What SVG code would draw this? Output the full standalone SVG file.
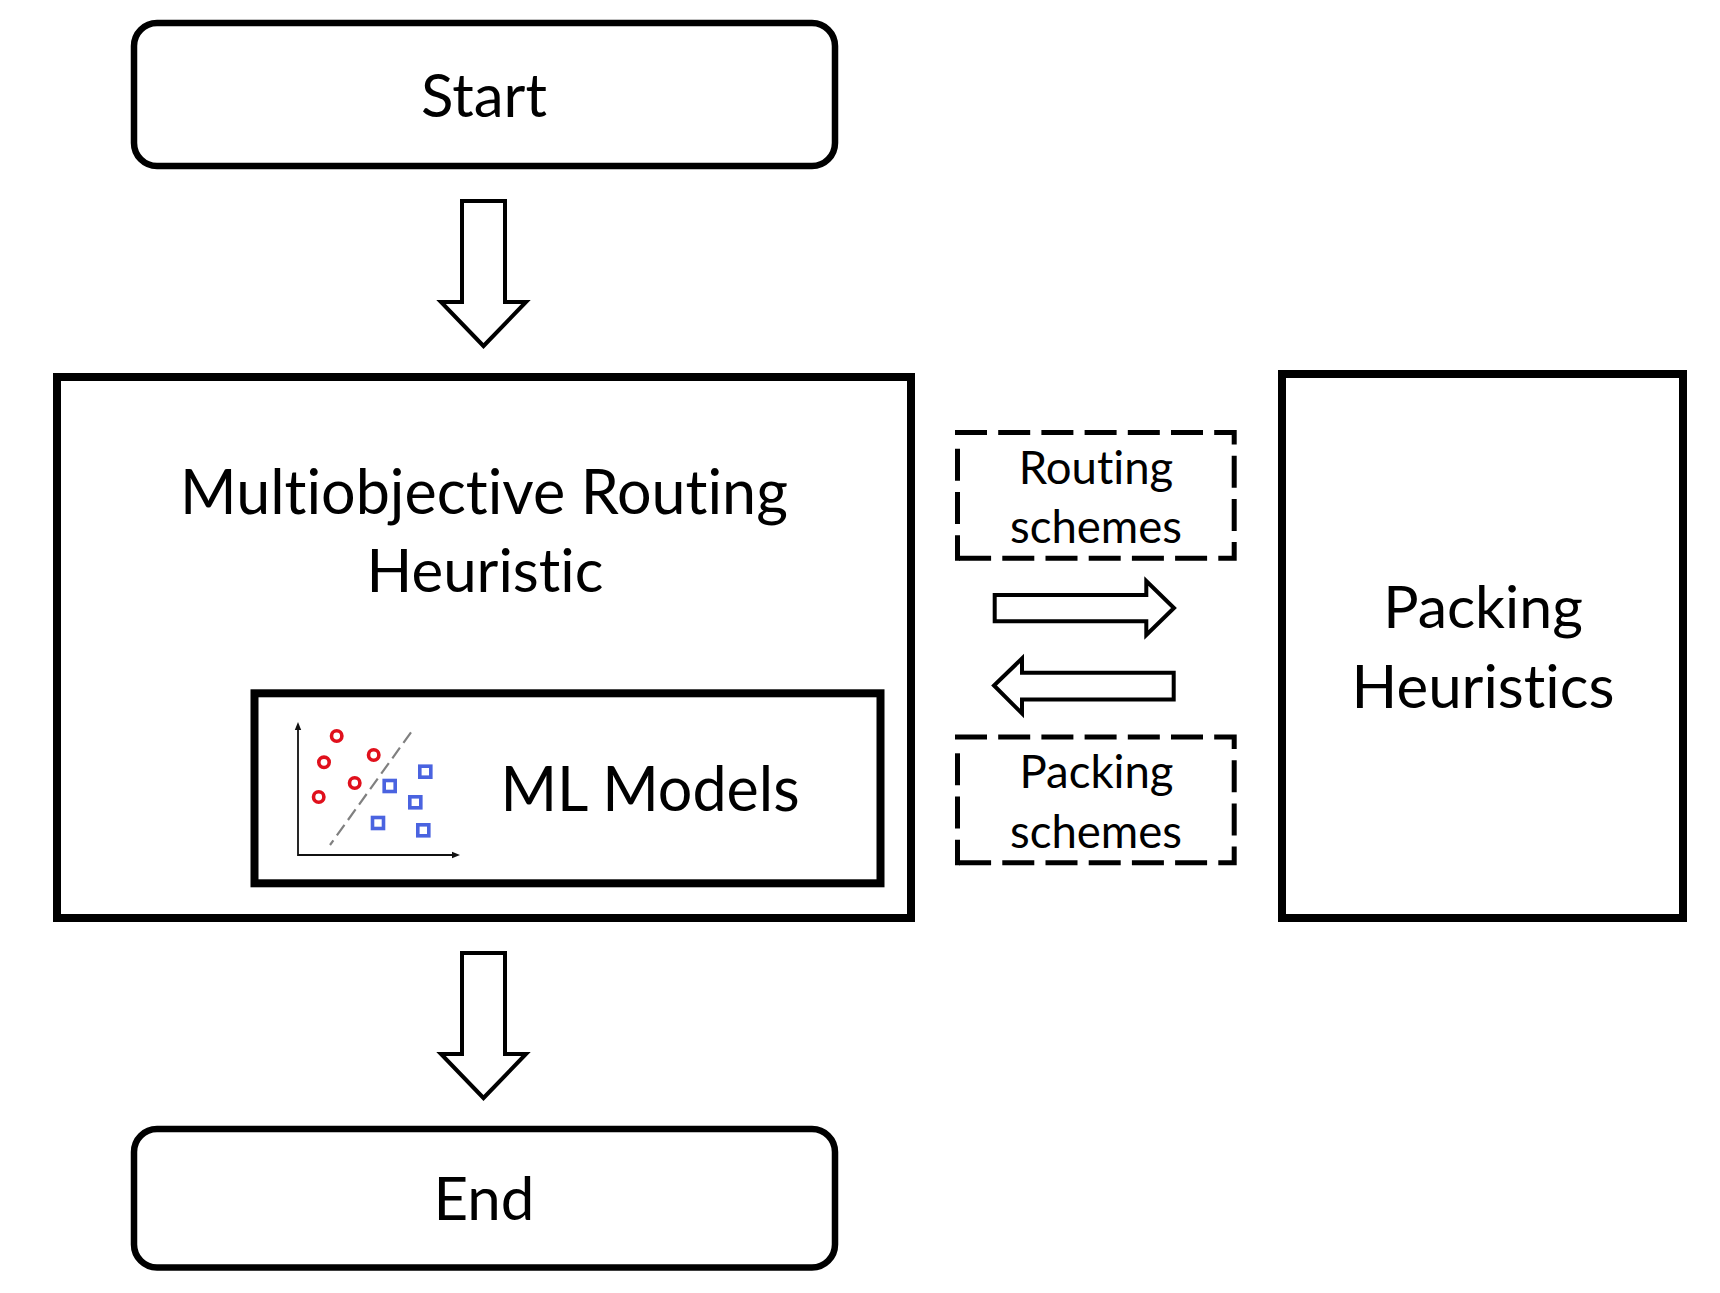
<svg xmlns="http://www.w3.org/2000/svg" width="1720" height="1293" viewBox="0 0 1720 1293">
<style>
text{font-family:"Lato","Liberation Sans",sans-serif;fill:#000;text-anchor:middle;font-variant-ligatures:none}
.box{fill:#fff;stroke:#000;stroke-width:8}
.round{fill:#fff;stroke:#000;stroke-width:6.5}
.dash{fill:none;stroke:#000;stroke-width:5;stroke-dasharray:32 11.2}
.arrow{fill:#fff;stroke:#000;stroke-width:4;stroke-linejoin:miter}
.t59{font-size:59px}
.t60{font-size:60px}
.t61{font-size:61px}
.small{font-size:45.5px}
.red{fill:none;stroke:#e0101c;stroke-width:3.6}
.blue{fill:none;stroke:#4a63e0;stroke-width:3.6}
.axis{fill:none;stroke:#111;stroke-width:1.8}
</style>
<defs>
<g id="dashes"><path class="dash" d="M955 432.5H1234.2V558.2H957.5"/><path class="dash" stroke-dashoffset="6.5" d="M957.5 560.7V445"/></g>
</defs>
<rect width="1720" height="1293" fill="#fff"/>
<g id="connectors">
<path class="arrow" d="M462 201H505V302H526L483.5 346L441 302H462Z"/>
<path class="arrow" d="M462 953H505V1054H526L483.5 1098L441 1054H462Z"/>
<path class="arrow" d="M994.7 595H1146.3V581L1174 608L1146.3 635V621.3H994.7Z"/>
<path class="arrow" d="M1173.7 672.7H1022V658.5L994 685.5L1022 713.5V699.5H1173.7Z"/>
</g>
<g id="start"><rect class="round" x="134" y="23" width="701" height="143" rx="23"/><text class="t60" x="484" y="116.7">Start</text></g>
<g id="end"><rect class="round" x="134" y="1129" width="701" height="138.5" rx="23"/><text class="t60" x="484" y="1220">End</text></g>
<g id="routing"><rect class="box" x="57" y="377" width="854" height="541"/><text class="t61" x="484" y="513.5">Multiobjective Routing</text><text class="t60" x="485" y="592">Heuristic</text></g>
<g id="ml"><rect class="box" x="254.5" y="693.3" width="626" height="190"/><text class="t61" x="650" y="810.5">ML Models</text>
<path class="axis" d="M298 727V855H454"/><path fill="#111" d="M298 722l-3.2 8h6.4zM460 855l-8-3.2v6.4z"/>
<path d="M411 732.3L330 845" fill="none" stroke="#808080" stroke-width="2.2" stroke-dasharray="13 6"/>
<circle class="red" cx="336.7" cy="736" r="5.2"/><circle class="red" cx="324" cy="762.3" r="5.2"/><circle class="red" cx="373.7" cy="755" r="5.2"/><circle class="red" cx="354.7" cy="783" r="5.2"/><circle class="red" cx="318.7" cy="797" r="5.2"/>
<rect class="blue" x="419.8" y="766.2" width="11" height="11"/><rect class="blue" x="384.2" y="780.5" width="11" height="11"/><rect class="blue" x="409.8" y="796.8" width="11" height="11"/><rect class="blue" x="372.5" y="817.5" width="11" height="11"/><rect class="blue" x="417.8" y="824.8" width="11" height="11"/></g>
<g id="routing-schemes"><use href="#dashes"/><text class="small" x="1096" y="484">Routing</text><text class="small" x="1096" y="543">schemes</text></g>
<g id="packing-schemes"><use href="#dashes" y="304.5"/><text class="small" x="1096.5" y="788">Packing</text><text class="small" x="1096" y="848">schemes</text></g>
<g id="packing"><rect class="box" x="1282" y="374" width="401" height="544"/><text class="t59" x="1483" y="628.3">Packing</text><text class="t60" x="1483" y="708.3">Heuristics</text></g>
</svg>
